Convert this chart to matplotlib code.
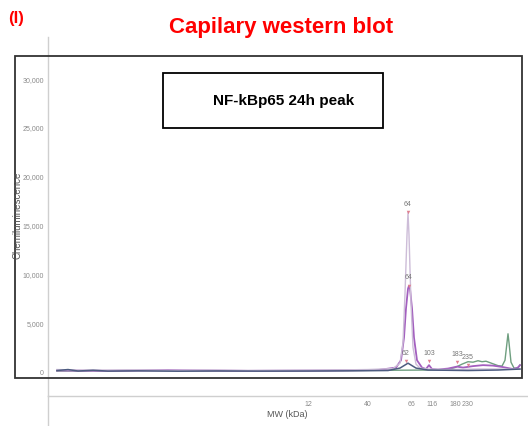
import matplotlib
matplotlib.use("Agg")
import matplotlib.pyplot as plt
from matplotlib.patches import Rectangle
from matplotlib.lines import Line2D

plt.rcParams['font.family'] = ['Liberation Sans', 'DejaVu Sans']

# ---- data (x = migration position, arbitrary units; y = chemiluminescence) ----
mw_tick_pos = [260, 320, 364, 384, 407, 420]
mw_tick_labels = ["12", "40", "66", "116", "180", "230"]
y_ticks = [0, 5000, 10000, 15000, 20000, 25000, 30000]
y_tick_labels = ["0", "5,000", "10,000", "15,000", "20,000", "25,000", "30,000"]

# tall peak trace (light lavender)
a_x = [9, 40, 80, 120, 160, 200, 240, 280, 320, 345, 352, 355, 357, 359, 360, 361, 363, 365, 368, 372, 380, 400, 430, 472]
a_y = [250, 180, 220, 150, 200, 150, 180, 200, 250, 350, 900, 3000, 8000, 14000, 16300, 14000, 7000, 2500, 800, 400, 300, 250, 300, 300]

# second peak trace (purple)
b_x = [9, 60, 120, 200, 280, 330, 348, 353, 356, 358, 360, 361, 362, 364, 366, 369, 374, 378, 381, 384, 390, 400, 409, 415, 425, 435, 445, 455, 465, 470, 472]
b_y = [150, 120, 180, 120, 150, 200, 450, 1200, 3500, 6500, 8500, 8800, 8500, 6500, 3500, 1200, 450, 300, 700, 300, 250, 350, 550, 450, 600, 700, 650, 500, 300, 450, 700]

# green trace
c_x = [9, 100, 200, 300, 380, 400, 407, 414, 420, 425, 430, 434, 438, 442, 446, 450, 454, 457, 459, 460, 461, 463, 466, 469, 472]
c_y = [100, 150, 100, 150, 200, 250, 450, 800, 1050, 1000, 1150, 1050, 1100, 950, 800, 650, 600, 1200, 3000, 3900, 3000, 1000, 400, 350, 700]

# baseline trace (dark blue)
d_x = [9, 20, 30, 45, 60, 90, 130, 170, 210, 260, 300, 340, 352, 360, 368, 380, 420, 450, 472]
d_y = [150, 250, 100, 180, 90, 120, 80, 110, 90, 100, 120, 150, 400, 900, 400, 200, 150, 200, 300]

# peak annotations
peak_x = [360, 361, 358, 381, 409, 420]
peak_y = [16300, 8800, 1100, 1100, 1000, 700]
peak_labels = ["64", "64", "62", "103", "183", "235"]

# ---- figure ----
W, H = 528, 427
fig = plt.figure(figsize=(W / 100, H / 100), dpi=100)

def fx(px):
    return px / W

def fy(py):
    return 1 - py / H

ax = fig.add_axes([fx(48), fy(397), fx(527) - fx(48), fy(38) - fy(397)])
ax.set_xlim(0, 479)
ax.set_ylim(-2450, 34190)

ax.plot(c_x, c_y, color="#6f9f80", lw=1.0)
ax.plot(b_x, b_y, color="#a35fbf", lw=1.3)
ax.plot(a_x, a_y, color="#cdbdd8", lw=1.0)
ax.plot(d_x, d_y, color="#4d5c80", lw=1.1)

for px, py, lab in zip(peak_x, peak_y, peak_labels):
    ax.plot([px], [py], marker="v", ms=2.5, color="#e08090", mec="none")
    ax.annotate(lab, (px, py), xytext=(0, 4), textcoords="offset points",
                ha="center", va="bottom", fontsize=5, color="#777777")

for s in ["top", "right"]:
    ax.spines[s].set_visible(False)
ax.spines["left"].set_color("#cfcfcf")
ax.spines["bottom"].set_color("#cfcfcf")
ax.spines["left"].set_linewidth(1.0)
ax.spines["bottom"].set_linewidth(1.0)

ax.set_yticks(y_ticks)
ax.set_yticklabels(y_tick_labels)
ax.set_xticks(mw_tick_pos)
ax.set_xticklabels(mw_tick_labels)
ax.tick_params(axis="both", length=0, labelsize=5, colors="#8a8a8a")
ax.tick_params(axis="y", pad=3)
ax.tick_params(axis="x", pad=3)

# extended gray y axis line below
fig.add_artist(Line2D([fx(48), fx(48)], [fy(427), fy(397)], color="#cfcfcf", lw=1.0))

fig.text(fx(287), fy(415), "MW (kDa)", ha="center", va="center", fontsize=6.5, color="#555555")
fig.text(fx(18), fy(215), "Chemiluminescence", ha="center", va="center", rotation=90,
         fontsize=7, color="#555555")

# black frame
fig.add_artist(Rectangle((fx(15), fy(379)), fx(522) - fx(15), fy(57) - fy(379),
                         transform=fig.transFigure, fill=False, ec="#333333", lw=1.3))
# label box
fig.add_artist(Rectangle((fx(163), fy(129)), fx(383) - fx(163), fy(74) - fy(129),
                         transform=fig.transFigure, fill=False, ec="black", lw=1.3))
fig.text(fx(284), fy(101), "NF-kBp65 24h peak", ha="center", va="center",
         fontsize=11, fontweight="bold", color="black")

fig.text(fx(281), fy(28), "Capilary western blot", ha="center", va="center",
         fontsize=16, fontweight="bold", color="#ff0000")
fig.text(fx(16), fy(18), "(I)", ha="center", va="center",
         fontsize=12, fontweight="bold", color="#ff0000")

fig.savefig("out.png", dpi=100)
